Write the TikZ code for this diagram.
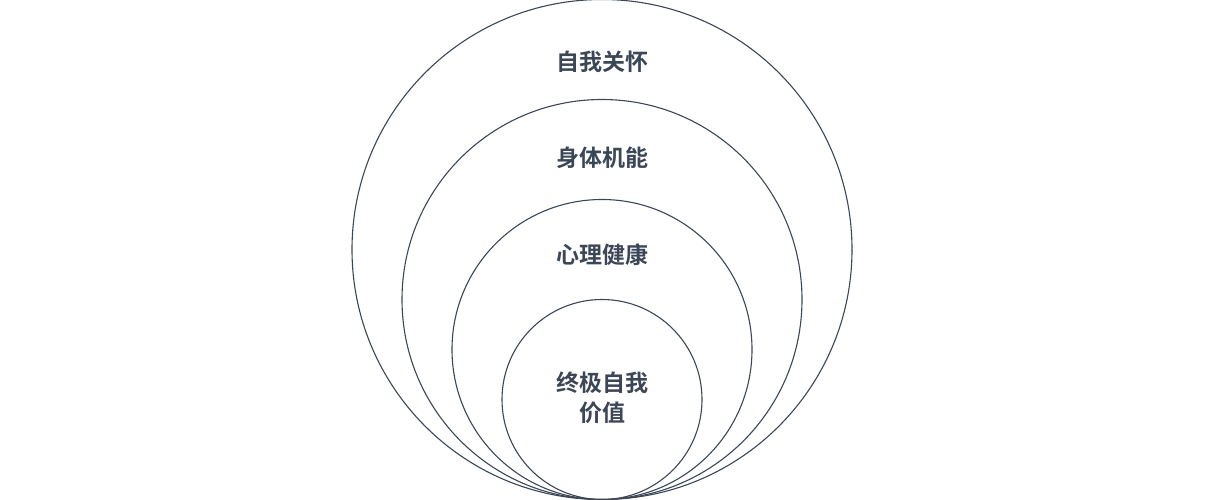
\documentclass[tikz,border=0pt]{standalone}
\usepackage{fontspec}
\newfontfamily\cjk{Noto Sans CJK SC Bold}
\definecolor{ink}{HTML}{3B4657}
\begin{document}
\begin{tikzpicture}[x=1pt,y=-1pt,
  ring/.style={draw=ink,line width=1.1pt},
  lbl/.style={text=ink,font=\cjk\fontsize{23}{30}\selectfont,align=center}]
\useasboundingbox (0,0) rectangle (1205,500);
\node[ring,circle,minimum size=500pt,inner sep=0pt] (c1) at (602,249.5) {};
\node[ring,circle,minimum size=400pt,inner sep=0pt] (c2) at (602,299.5) {};
\node[ring,circle,minimum size=300pt,inner sep=0pt] (c3) at (602,349.5) {};
\node[ring,circle,minimum size=200pt,inner sep=0pt] (c4) at (602,399.5) {};
\node[lbl] (t1) at (602,62) {自我关怀};
\node[lbl] (t2) at (602,158) {身体机能};
\node[lbl] (t3) at (602,255) {心理健康};
\node[lbl] (t4) at (602,398) {终极自我\\价值};
\end{tikzpicture}
\end{document}
